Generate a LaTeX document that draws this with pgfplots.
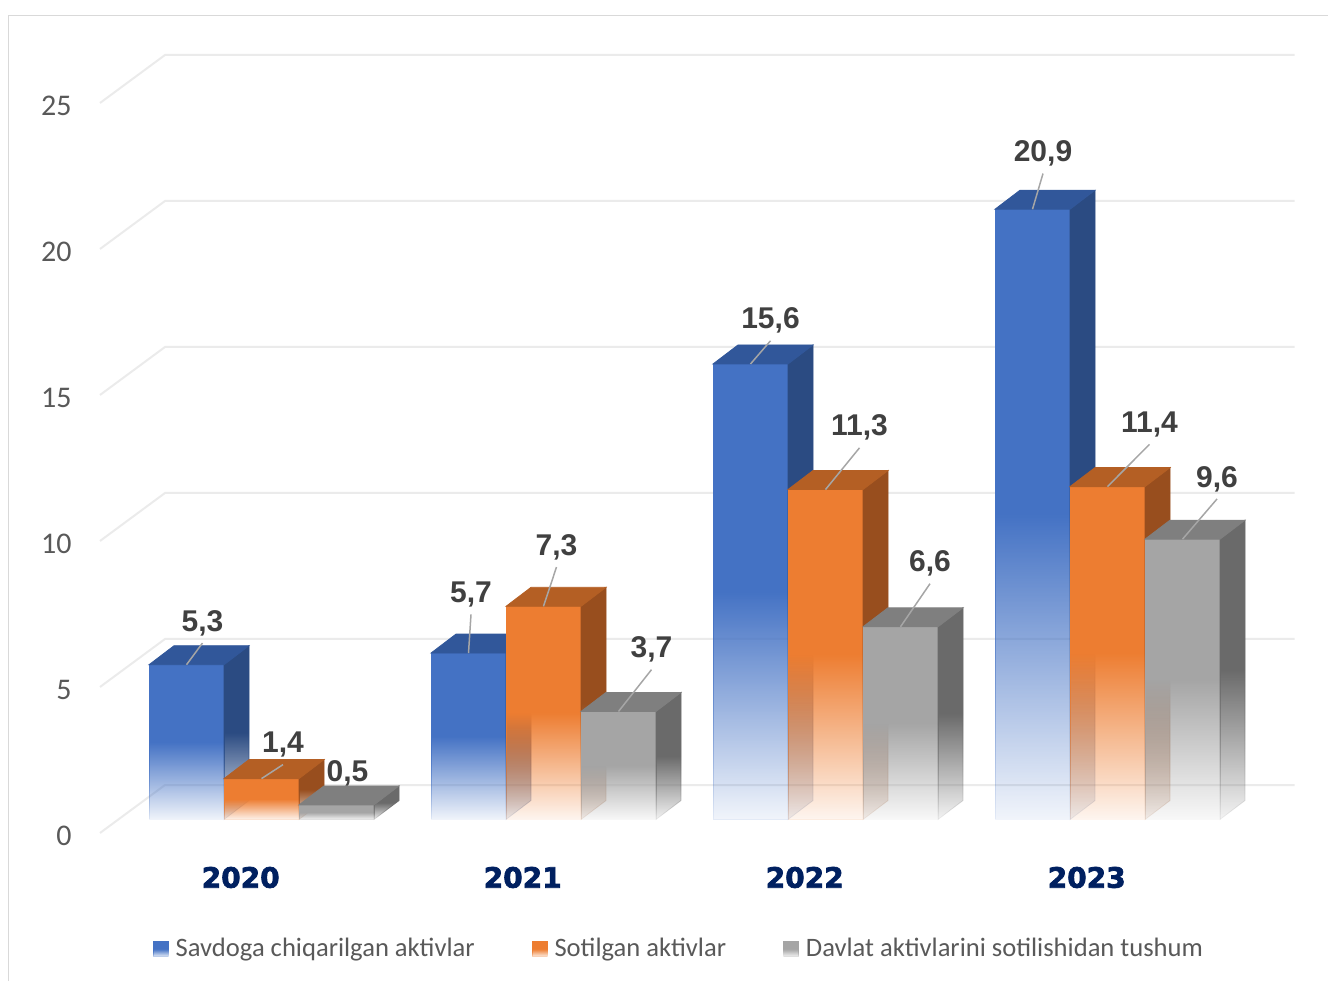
\documentclass[border=0pt]{standalone}
\usepackage{fontspec}
\setmainfont{Carlito}
\newfontfamily\valfont{Liberation Sans}
\newfontfamily\catfont{DejaVu Sans Bold}[FakeBold=2.5]
\usepackage{pgfplots}
\pgfplotsset{compat=1.18}
\usepackage{pgfplotstable}
\usetikzlibrary{fadings}

\definecolor{cblue}{HTML}{4472C4}
\definecolor{cbluetop}{HTML}{31579A}
\definecolor{cblueside}{HTML}{2B4B82}
\definecolor{corange}{HTML}{ED7D31}
\definecolor{corangetop}{HTML}{B45F24}
\definecolor{corangeside}{HTML}{984E1E}
\definecolor{cgray}{HTML}{A5A5A5}
\definecolor{cgraytop}{HTML}{7F7F7F}
\definecolor{cgrayside}{HTML}{6A6A6A}
\definecolor{gridc}{HTML}{EBEBEB}
\definecolor{framec}{HTML}{D9D9D9}
\definecolor{tickc}{HTML}{595959}
\definecolor{valc}{HTML}{404040}
\definecolor{catc}{HTML}{002060}
\definecolor{leadc}{HTML}{A6A6A6}

% bottom half of every bar fades out
\pgfdeclareverticalshading{barfadeshade}{100bp}{color(0bp)=(pgftransparent!93); color(25bp)=(pgftransparent!93); color(50bp)=(pgftransparent!0); color(100bp)=(pgftransparent!0)}
\pgfdeclarefading{barfade}{\pgfuseshading{barfadeshade}}
\pgfdeclareplotmark{nomark}{}

% x = year index, y = value, lx/ly = label offset (px), ll = leader line
\pgfplotstableread{
x y lx ly ll
0 5.3 16 43.7 1
1 5.7 2.5 60.6 1
2 15.6 20 45.2 1
3 20.9 10.5 57.7 1
}\tblblue
\pgfplotstableread{
x y lx ly ll
0 1.4 21.5 36 1
1 7.3 13 61.3 1
2 11.3 34 63.7 1
3 11.4 42 64.3 1
}\tblorange
\pgfplotstableread{
x y lx ly ll
0 0.5 11 33.4 0
1 3.7 33 63.8 1
2 6.6 29.5 65.1 1
3 9.6 34.5 62.2 1
}\tblgray

\pgfplotsset{
  bar3d/.style n args={4}{% front, top, side, shift (pt)
    scatter, only marks, mark=nomark,
    visualization depends on={y \as \val},
    scatter/@pre marker code/.code={%
      \pgfmathsetmacro\hh{\val*14.6}%
      \fill[#1, path fading=barfade] (#4pt-18.75pt,0pt) rectangle (#4pt+18.75pt,-\hh pt);
      \fill[#3, path fading=barfade] (#4pt+18.75pt,0pt) -- ++(12.5pt,9.5pt) -- ++(0pt,-\hh pt) -- ++(-12.5pt,-9.5pt) -- cycle;
      \fill[#2] (#4pt-18.75pt,0pt) -- (#4pt+18.75pt,0pt) -- ++(12.5pt,9.5pt) -- ++(-37.5pt,0pt) -- cycle;
    },
    scatter/@post marker code/.code={},
    legend image code/.code={\fill[#1, path fading=barfade] (0pt,-3.75pt) rectangle (7.5pt,3.75pt);},
  },
  leaders/.style={% shift (pt)
    scatter, only marks, mark=nomark, forget plot,
    visualization depends on={\thisrow{lx} \as \lx},
    visualization depends on={\thisrow{ly} \as \ly},
    visualization depends on={\thisrow{ll} \as \ll},
    scatter/@pre marker code/.code={%
      \ifdim\ll pt>0.5pt
        \draw[leadc, line width=0.75pt] (#1pt,0pt) -- ++(0.5*\lx pt, 0.5*\ly pt-11pt);
      \fi
    },
    scatter/@post marker code/.code={},
  },
  vlabels/.style={% shift (pt)
    only marks, mark=nomark, forget plot,
    visualization depends on={\thisrow{lx} \as \lx},
    visualization depends on={\thisrow{ly} \as \ly},
    nodes near coords={\pgfmathprintnumber[fixed, fixed zerofill, precision=1, use comma, assume math mode=true]{\pgfplotspointmeta}},
    every node near coord/.append style={anchor=center, inner sep=0pt,
      font=\valfont\bfseries\fontsize{15}{18}\selectfont, text=valc,
      xshift={#1pt+0.5*\lx pt}, yshift={0.5*\ly pt-1pt}},
  },
}

\begin{document}
\begin{tikzpicture}
\begin{axis}[name=ax,
  x=141pt, y=14.6pt,
  xmin=-0.92730, xmax=3.78191, ymin=-5.5308, ymax=28.0651,
  clip=false,
  axis x line*=bottom, axis y line*=left,
  axis line style={draw=none},
  major tick style={draw=none},
  xtick={0,1,2,3}, xticklabels={2020,2021,2022,2023},
  xticklabel style={anchor=center, xshift=-10.4pt, yshift=51.75pt,
    font=\catfont\fontsize{14}{16}\selectfont, text=catc},
  ytick={0,5,10,15,20,25}, yticklabels={0,5,10,15,20,25},
  yticklabel style={anchor=east, inner sep=0pt, xshift=36pt, yshift=-8pt,
    font=\fontsize{15}{18}\selectfont, text=tickc},
  legend columns=3,
  legend style={at={(axis cs:1.47695,-4.44)}, anchor=center, draw=none, fill=none,
    font=\fontsize{13.3}{16}\selectfont, text=tickc,
    /tikz/every odd column/.append style={column sep=3.5pt},
    /tikz/every even column/.append style={column sep=28.5pt},
    nodes={inner sep=0pt}},
]
\draw[framec, line width=0.75pt] (rel axis cs:0.0064,0) -- (rel axis cs:0.0064,0.9842) -- (rel axis cs:1,0.9842);
\pgfplotsinvokeforeach{0,5,10,15,20,25}{
  \draw[gridc, line width=1pt] (axis cs:-0.5727,#1-0.4623) -- (axis cs:-0.3422,#1+1.1815) -- (axis cs:3.6631,#1+1.1815);
}
\addplot[bar3d={cblue}{cbluetop}{cblueside}{-37.5}] table[x=x,y=y] {\tblblue};
\addlegendentry{Savdoga chiqarilgan aktivlar}
\addplot[bar3d={corange}{corangetop}{corangeside}{0}] table[x=x,y=y] {\tblorange};
\addlegendentry{Sotilgan aktivlar}
\addplot[bar3d={cgray}{cgraytop}{cgrayside}{37.5}] table[x=x,y=y] {\tblgray};
\addlegendentry{Davlat aktivlarini sotilishidan tushum}
\addplot[leaders=-37.5] table[x=x,y=y] {\tblblue};
\addplot[leaders=0] table[x=x,y=y] {\tblorange};
\addplot[leaders=37.5] table[x=x,y=y] {\tblgray};
\addplot[vlabels=-37.5] table[x=x,y=y] {\tblblue};
\addplot[vlabels=0] table[x=x,y=y] {\tblorange};
\addplot[vlabels=37.5] table[x=x,y=y] {\tblgray};
\end{axis}
\pgfresetboundingbox
\useasboundingbox (ax.south west) rectangle (ax.north east);
\end{tikzpicture}
\end{document}
